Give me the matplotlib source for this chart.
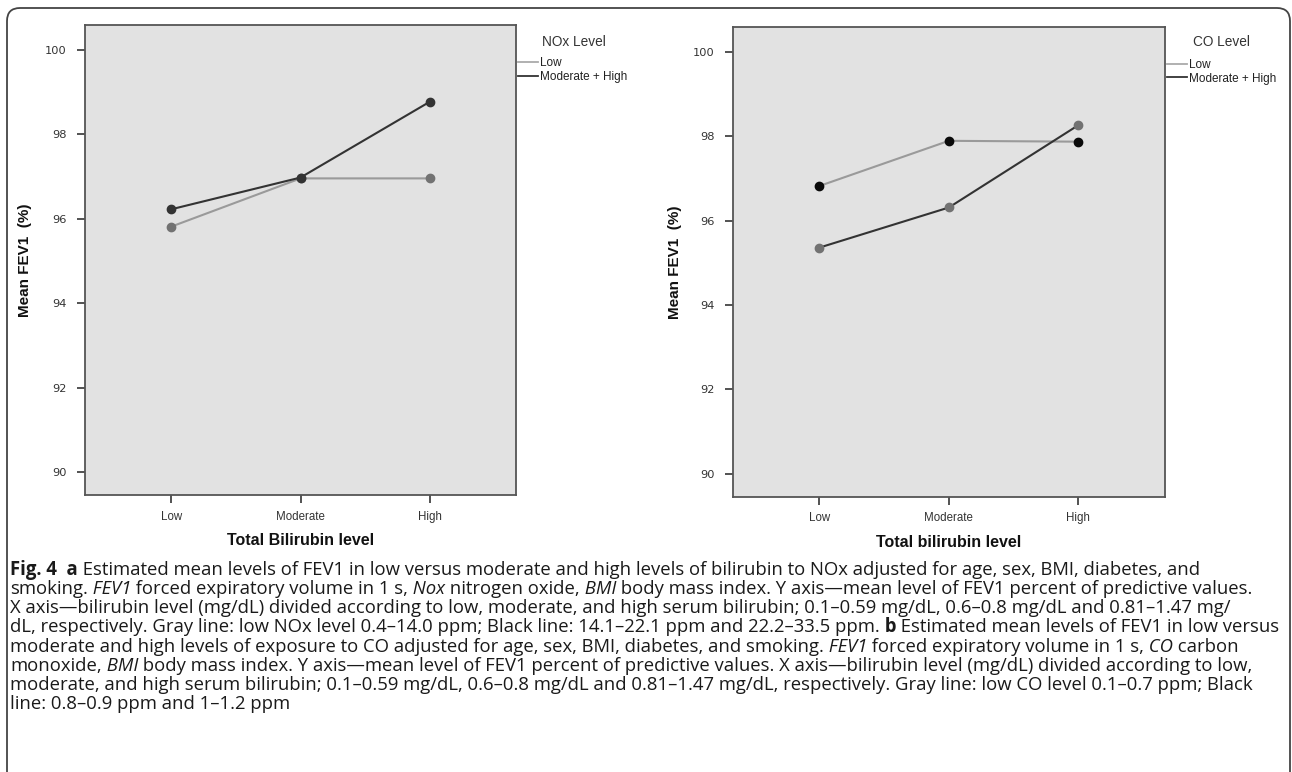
import matplotlib
matplotlib.use("Agg")
import matplotlib.pyplot as plt
from matplotlib.lines import Line2D
from matplotlib.patches import FancyBboxPatch
from matplotlib.transforms import IdentityTransform

# data
levels = ["Low", "Moderate", "High"]
nox_low = [95.81, 96.95, 96.95]
nox_modhigh = [96.22, 96.97, 98.76]
co_low = [96.82, 97.89, 97.87]
co_modhigh = [95.36, 96.31, 98.26]
yticks = [90, 92, 94, 96, 98, 100]
series_labels = ["Low", "Moderate + High"]

caption = [
    [("Fig. 4", "bold", "normal"), ("  a", "bold", "normal"),
     (" Estimated mean levels of FEV1 in low versus moderate and high levels of bilirubin to NOx adjusted for age, sex, BMI, diabetes, and", "normal", "normal")],
    [("smoking.", "normal", "normal"), (" FEV1", "normal", "italic"), (" forced expiratory volume in 1 s,", "normal", "normal"),
     (" Nox", "normal", "italic"), (" nitrogen oxide,", "normal", "normal"), (" BMI", "normal", "italic"),
     (" body mass index. Y axis\u2014mean level of FEV1 percent of predictive values.", "normal", "normal")],
    [("X axis\u2014bilirubin level (mg/dL) divided according to low, moderate, and high serum bilirubin; 0.1\u20130.59 mg/dL, 0.6\u20130.8 mg/dL and 0.81\u20131.47 mg/", "normal", "normal")],
    [("dL, respectively. Gray line: low NOx level 0.4\u201314.0 ppm; Black line: 14.1\u201322.1 ppm and 22.2\u201333.5 ppm.", "normal", "normal"),
     (" b", "bold", "normal"), (" Estimated mean levels of FEV1 in low versus", "normal", "normal")],
    [("moderate and high levels of exposure to CO adjusted for age, sex, BMI, diabetes, and smoking.", "normal", "normal"),
     (" FEV1", "normal", "italic"), (" forced expiratory volume in 1 s,", "normal", "normal"), (" CO", "normal", "italic"),
     (" carbon", "normal", "normal")],
    [("monoxide,", "normal", "normal"), (" BMI", "normal", "italic"),
     (" body mass index. Y axis\u2014mean level of FEV1 percent of predictive values. X axis\u2014bilirubin level (mg/dL) divided according to low,", "normal", "normal")],
    [("moderate, and high serum bilirubin; 0.1\u20130.59 mg/dL, 0.6\u20130.8 mg/dL and 0.81\u20131.47 mg/dL, respectively. Gray line: low CO level 0.1\u20130.7 ppm; Black", "normal", "normal")],
    [("line: 0.8\u20130.9 ppm and 1\u20131.2 ppm", "normal", "normal")],
]

W, H = 1292, 772
fig = plt.figure(figsize=(W / 100, H / 100), dpi=100)
fig.patch.set_facecolor("white")

BG = "#e2e2e2"
GRAY_LINE = "#9a9a9a"
DARK_LINE = "#333333"
GRAY_DOT = "#727272"
BLACK_DOT = "#0a0a0a"


def make_panel(rect, low, modhigh, low_dot, mod_dot, title, xlabel, tx, ty, lx, legy):
    ax = fig.add_axes(rect)
    ax.set_facecolor(BG)
    x = range(len(levels))
    ax.plot(x, low, color=GRAY_LINE, lw=1.5, marker="o", ms=6,
            mfc=low_dot, mec=low_dot, zorder=3)
    ax.plot(x, modhigh, color=DARK_LINE, lw=1.5, marker="o", ms=6,
            mfc=mod_dot, mec=mod_dot, zorder=4)
    ax.set_xlim(-0.67, 2.67)
    ax.set_ylim(89.45, 100.58)
    ax.set_xticks(list(x))
    ax.set_xticklabels(levels, family="Liberation Sans", fontsize=8.3, color="#333333")
    ax.set_yticks(yticks)
    ax.set_yticklabels([str(v) for v in yticks], family="DejaVu Sans", fontsize=8.2, color="#333333")
    ax.tick_params(axis="y", length=6, width=1.3, color="#444444", pad=7)
    ax.tick_params(axis="x", length=6, width=1.3, color="#444444", pad=5)
    for s in ax.spines.values():
        s.set_color("#555555")
        s.set_linewidth(1.3)
    ax.set_xlabel(xlabel, family="Liberation Sans", fontweight="bold", fontsize=11.5, color="#111111")
    ax.xaxis.label.set_va("center")
    ax.xaxis.set_label_coords(0.5, -0.097)
    ax.set_ylabel("Mean FEV1  (%)", family="Liberation Sans", fontweight="bold", fontsize=11, color="#111111")
    ax.yaxis.label.set_va("center")
    ax.yaxis.set_label_coords(lx, 0.5)
    ax.text(tx, ty, title, transform=ax.transAxes, family="Liberation Sans",
            fontsize=9.8, color="#333333", ha="left", va="center")
    h1 = Line2D([], [], color="#aaaaaa", lw=1.3)
    h2 = Line2D([], [], color=DARK_LINE, lw=1.3)
    leg = ax.legend([h1, h2], series_labels, loc="upper left", bbox_to_anchor=(1.004, legy),
                    frameon=False, borderaxespad=0, borderpad=0, handlelength=1.75,
                    handletextpad=0.1, labelspacing=0.15,
                    prop={"family": "Liberation Sans", "size": 8.5})
    for t in leg.get_texts():
        t.set_color("#222222")
    return ax


make_panel([85 / W, 1 - 495.3 / H, 431 / W, 470.3 / H], nox_low, nox_modhigh,
           GRAY_DOT, DARK_LINE, "NOx Level", "Total Bilirubin level", 1.0596, 0.964, -0.139, 0.931)
make_panel([732.7 / W, 1 - 497 / H, 432.3 / W, 469.7 / H], co_low, co_modhigh,
           BLACK_DOT, GRAY_DOT, "CO Level", "Total bilirubin level", 1.0648, 0.969, -0.1345, 0.933)

# rounded frame around the figure (bottom edge runs off the image)
frame = FancyBboxPatch((7, -40), 1283, H - 8 + 40,
                       boxstyle="round,pad=0,rounding_size=13",
                       transform=IdentityTransform(), fill=False,
                       edgecolor="#444444", lw=1.3)
fig.add_artist(frame)

# caption, drawn segment by segment
renderer = fig.canvas.get_renderer()
probe = fig.text(0, 0, "".join(s[0] for s in caption[0]), family="Open Sans", fontsize=12)
pw = probe.get_window_extent(renderer).width
probe.remove()
csize = 12 * 1183 / pw

for i, line in enumerate(caption):
    y = 570 + i * 19.15
    x = 10
    for txt, weight, style in line:
        t = fig.text(x / W, 1 - y / H, txt, family="Open Sans", fontsize=csize,
                     fontweight=weight, fontstyle=style, color="#1a1a1a",
                     ha="left", va="center")
        x = t.get_window_extent(renderer).x1

fig.savefig("out.png", dpi=100)
